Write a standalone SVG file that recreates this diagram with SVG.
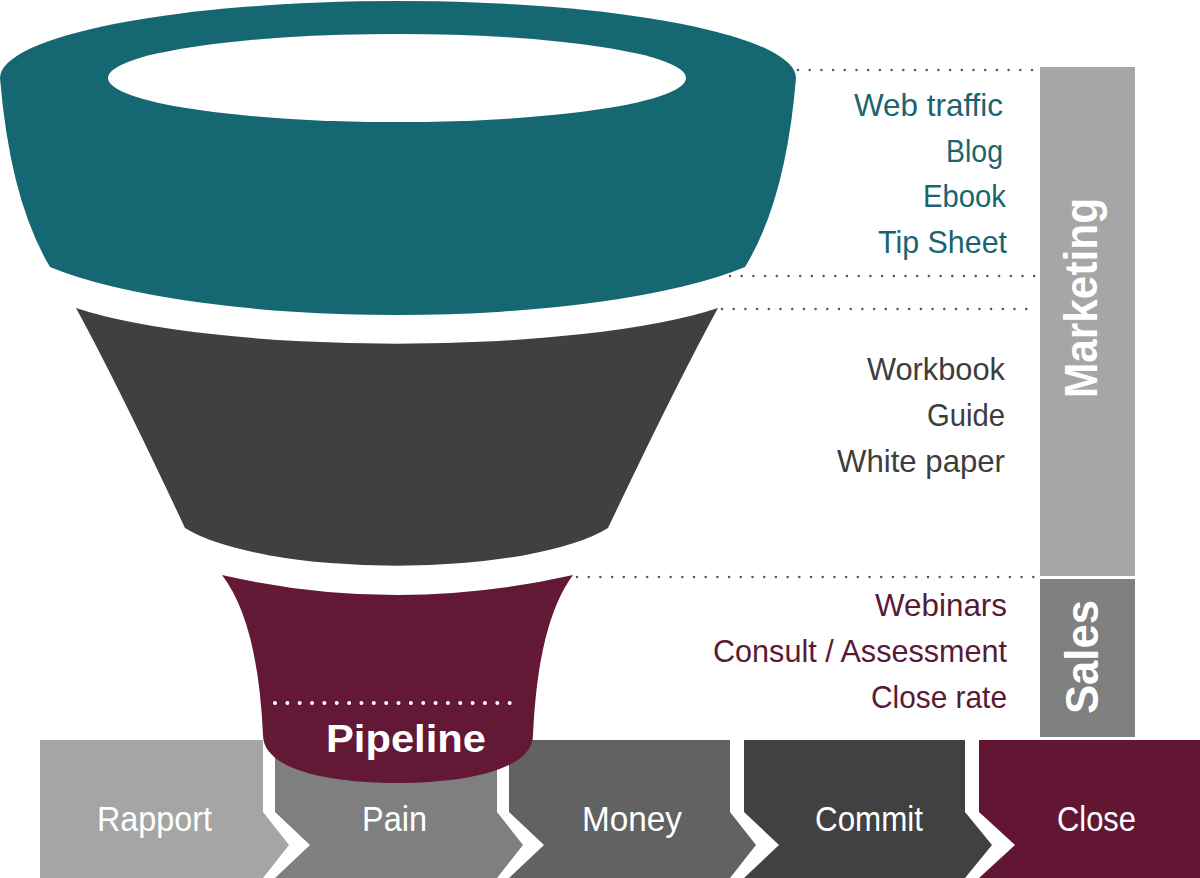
<svg xmlns="http://www.w3.org/2000/svg" width="1200" height="878" viewBox="0 0 1200 878">
<style>
.lbl{font-family:"Liberation Sans Narrow","Liberation Sans",Arial,sans-serif;font-size:32px}
.teal{fill:#1b6470}
.dark{fill:#3d3d3d}
.wine{fill:#581a34}
.chev{font-family:"Liberation Sans Narrow","Liberation Sans",Arial,sans-serif;font-size:35px;fill:#ffffff}
.side{font-family:"Liberation Sans",Arial,sans-serif;font-weight:bold;font-size:46px;fill:#ffffff}
.dots{stroke:#555555;stroke-width:2.5;stroke-linecap:round;stroke-dasharray:0 11.7;fill:none}
</style>
<rect width="1200" height="878" fill="#ffffff"/>
<g id="connectors">
<line class="dots" x1="798" y1="70" x2="1036" y2="70"/>
<line class="dots" x1="730" y1="276" x2="1036" y2="276"/>
<line class="dots" x1="722" y1="309" x2="1036" y2="309"/>
<line class="dots" x1="577" y1="577" x2="1036" y2="577"/>
</g>
<g id="marketing-bar">
<rect x="1040" y="67" width="95" height="509" fill="#a6a6a6"/>
<text class="side" transform="translate(1097,298) rotate(-90)" text-anchor="middle" textLength="200" lengthAdjust="spacingAndGlyphs">Marketing</text>
</g>
<g id="sales-bar">
<rect x="1040" y="579" width="95" height="158" fill="#808080"/>
<text class="side" transform="translate(1098,657) rotate(-90)" text-anchor="middle" textLength="114" lengthAdjust="spacingAndGlyphs">Sales</text>
</g>
<g id="funnel-top">
<path d="M0,78 A398,77 0 0 1 796,78 Q786,200 745,267 A400,95 0 0 1 50,267 Q10,200 0,78 Z" fill="#156872"/>
<ellipse cx="397" cy="78" rx="289" ry="44" fill="#ffffff"/>
</g>
<g id="funnel-middle">
<path d="M76,308 A370,71 0 0 0 718,308 Q676,385 608,528 A230,62 0 0 1 185,528 Q118,385 76,308 Z" fill="#404040"/>
</g>
<g id="stages">
<g id="stage-rapport">
<path d="M40,740 H263 V812 L289,845 L263,878 H40 Z" fill="#a5a5a5"/>
<text class="chev" x="97" y="831" textLength="115" lengthAdjust="spacingAndGlyphs">Rapport</text>
</g>
<g id="stage-pain">
<path d="M275,740 H497 V812 L523,845 L497,878 H275 L310,845 L275,812 Z" fill="#7f7f7f"/>
<text class="chev" x="362" y="831" textLength="65" lengthAdjust="spacingAndGlyphs">Pain</text>
</g>
<g id="stage-money">
<path d="M509,740 H730 V812 L756,845 L730,878 H509 L544,845 L509,812 Z" fill="#626262"/>
<text class="chev" x="582" y="831" textLength="100" lengthAdjust="spacingAndGlyphs">Money</text>
</g>
<g id="stage-commit">
<path d="M744,740 H965 V812 L992,845 L965,878 H744 L779,845 L744,812 Z" fill="#414141"/>
<text class="chev" x="815" y="831" textLength="108" lengthAdjust="spacingAndGlyphs">Commit</text>
</g>
<g id="stage-close">
<path d="M979,740 H1200 V878 H979 L1015,845 L979,812 Z" fill="#621634"/>
<text class="chev" x="1057" y="831" textLength="79" lengthAdjust="spacingAndGlyphs">Close</text>
</g>
</g>
<g id="funnel-bottom">
<path d="M222,575 Q397,615 573,575 Q538,622 533,735 C533,770 465,783 397,783 C330,783 263,770 263,735 Q258,622 222,575 Z" fill="#631835"/>
<line x1="275" y1="703" x2="522" y2="703" stroke="#ffffff" stroke-width="4" stroke-linecap="round" stroke-dasharray="0 12.35"/>
<text x="326" y="752" font-family="Liberation Sans, Arial, sans-serif" font-weight="bold" font-size="38" fill="#ffffff" textLength="160" lengthAdjust="spacingAndGlyphs">Pipeline</text>
</g>
<g id="labels-marketing-top">
<text class="lbl teal" x="854" y="116" textLength="149" lengthAdjust="spacingAndGlyphs">Web traffic</text>
<text class="lbl teal" x="946" y="162" textLength="57" lengthAdjust="spacingAndGlyphs">Blog</text>
<text class="lbl teal" x="923" y="207" textLength="83" lengthAdjust="spacingAndGlyphs">Ebook</text>
<text class="lbl teal" x="878" y="253" textLength="129" lengthAdjust="spacingAndGlyphs">Tip Sheet</text>
</g>
<g id="labels-marketing-middle">
<text class="lbl dark" x="867" y="380" textLength="138" lengthAdjust="spacingAndGlyphs">Workbook</text>
<text class="lbl dark" x="927" y="426" textLength="78" lengthAdjust="spacingAndGlyphs">Guide</text>
<text class="lbl dark" x="837" y="472" textLength="168" lengthAdjust="spacingAndGlyphs">White paper</text>
</g>
<g id="labels-sales">
<text class="lbl wine" x="875" y="616" textLength="132" lengthAdjust="spacingAndGlyphs">Webinars</text>
<text class="lbl wine" x="713" y="662" textLength="294" lengthAdjust="spacingAndGlyphs">Consult / Assessment</text>
<text class="lbl wine" x="871" y="708" textLength="136" lengthAdjust="spacingAndGlyphs">Close rate</text>
</g>
</svg>
